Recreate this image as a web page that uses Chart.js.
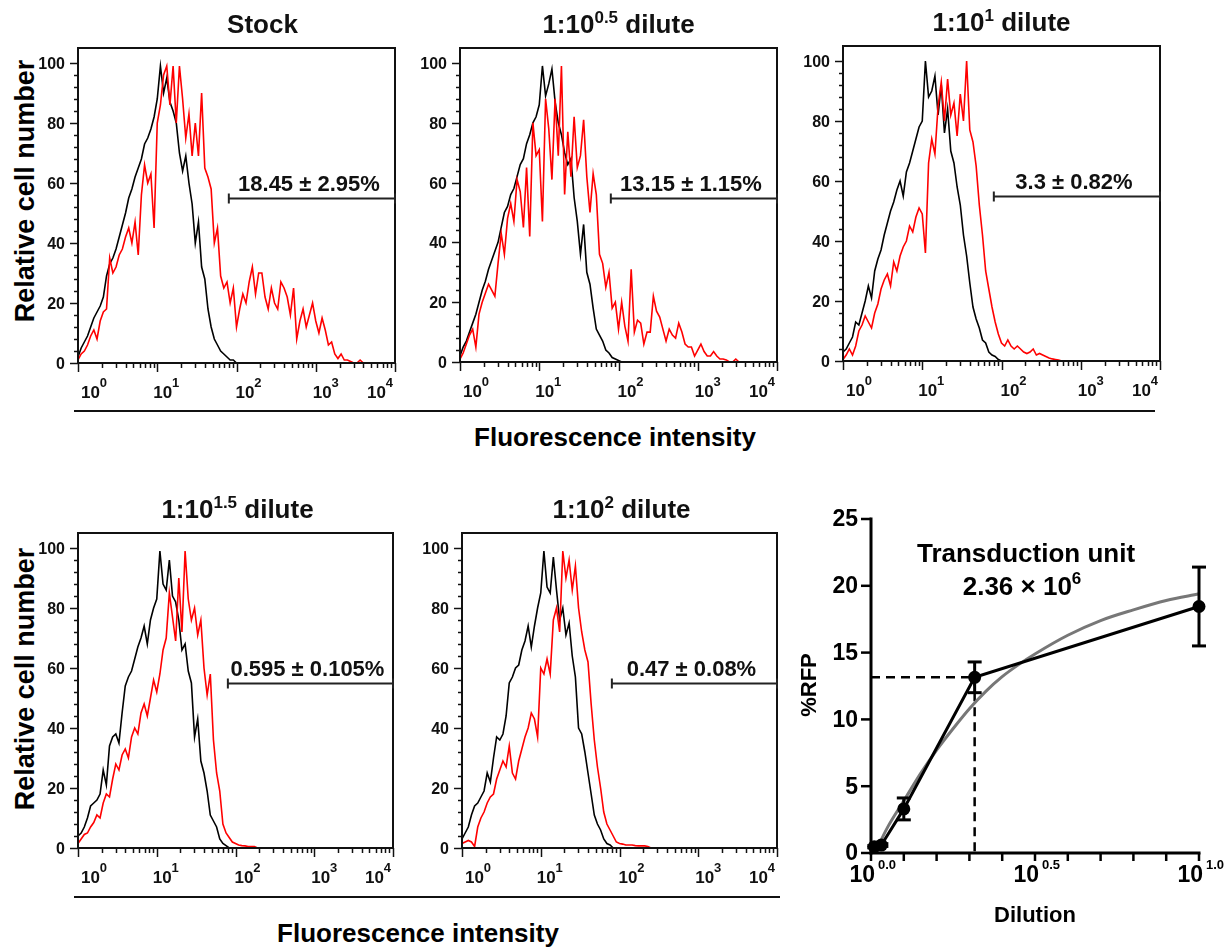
<!DOCTYPE html>
<html lang="en">
<head>
<meta charset="UTF-8">
<title>RFP titration</title>
<script src="https://cdn.jsdelivr.net/npm/chart.js"></script>
<style>
    body {
        margin: 0;
        background: #fff;
        font-family: "Liberation Sans", Arial, Helvetica, sans-serif;
    }
    .figure {
        position: relative;
        width: 1230px;
        height: 947px;
        overflow: hidden;
    }
    .figure canvas { position: absolute; }
    .rule {
        position: absolute;
        height: 2px;
        background: #111;
    }
    .label {
        position: absolute;
        font-weight: bold;
        color: #000;
        white-space: nowrap;
        line-height: 1;
        transform: translate(-50%, -50%);
    }
    .ylabel { transform: translate(-50%, -50%) rotate(-90deg); }
</style>
</head>
<body>
<div class="figure" id="figure">
    <div class="rule" style="left:74px; top:410px; width:1081px"></div>
    <div class="rule" style="left:74px; top:896px; width:706px"></div>
    <div class="label" style="left:615px; top:437px; font-size:26px">Fluorescence intensity</div>
    <div class="label" style="left:418px; top:933px; font-size:26px">Fluorescence intensity</div>
    <div class="label ylabel" style="left:25px; top:191px; font-size:27px">Relative cell number</div>
    <div class="label ylabel" style="left:25px; top:679px; font-size:27px">Relative cell number</div>
</div>

<script>
    const FONT = '"Liberation Sans", Arial, Helvetica, sans-serif';

    // histogram bins: bin i sits at 10^(i * BIN_STEP) on the fluorescence axis
    const BIN_STEP = 0.04;

    // Stock
    const stockCtrl = [2,5,7,9,12, 15,17,19,22,29, 33,35,38,42,46, 50,55,58,62,65, 68,73,75,78,82,
        88,99,90,95,87, 84,80,70,64,69, 60,53,40,47,32, 28,18,12,8,6, 4,3,2,1,1, 0];
    const stockRfp = [1,3,4,6,9, 11,8,14,17,18, 35,30,32,36,38, 42,45,40,47,36, 56,66,60,63,45,
        80,86,96,99,86, 99,80,99,88,75, 83,69,80,69,90, 65,62,58,40,45, 29,25,27,20,25,
        12,18,23,20,27, 32,23,30,30,22, 18,25,20,18,27, 25,22,16,25,8, 14,18,12,16,20,
        14,10,15,11,6, 7,3,1.5,3,1, 1,0.5,0,0,1, 0];

    // 1:10^0.5
    const d05Ctrl = [2,5,7,10,13, 16,20,24,27,31, 34,37,40,45,50, 52,56,58,62,66, 68,73,76,80,82,
        86,99,89,93,98, 87,80,76,70,66, 68,55,47,36,46, 30,26,18,11,9, 7,4,3,1.5,1, 0.5,0];
    const d05Rfp = [1,3,6,9,11, 5,16,20,23,26, 24,22,33,43,36, 48,53,47,61,57, 45,65,42,80,69,
        71,47,88,78,61, 88,69,99,56,77, 62,82,65,69,81, 62,50,63,56,36, 33,25,30,18,20,
        11,20,12,7,31, 10,14,13,6,10, 10,22,17,15,11, 7,11,9,8,13, 10,6,5,5,2,
        4,6,3.5,2,2, 3.5,2,1,1,0.7, 0,0,1,0];

    // 1:10^1
    const d1Ctrl = [3,4,6,8,13, 12,16,20,25,21, 30,34,37,42,46, 50,53,57,60,55, 63,66,70,74,78,
        80,100,88,90,95, 82,92,76,84,70, 66,58,52,42,35, 26,18,14,11,7, 6,3,2,1.5,0.5, 0];
    const d1Rfp = [0.5,2,4,2,5, 10,12,15,13,11, 16,19,24,27,29, 25,33,30,35,38, 40,45,43,48,51,
        49,36,66,74,69, 85,93,80,94,82, 86,75,89,80,100, 77,73,65,52,42, 30,24,18,13,9,
        6,5,7,5,4, 5,4,3,2.5,3, 4,2,2.5,2,1.5, 1,0.7,0.5,0.3,0];

    // 1:10^1.5
    const d15Ctrl = [4,5,7,10,14, 15,16,18,26,21, 34,37,38,35,45, 54,57,59,63,67, 70,74,68,76,80,
        83,99,88,86,96, 84,82,76,66,68, 59,55,37,43,29, 25,19,11,9,7, 3,1.5,0.8,0];
    const d15Rfp = [1.5,3,4.5,5,7, 8.5,11,10,15,18, 17,23,28,26,31, 33,30,37,40,38, 45,48,44,50,56,
        52,58,66,70,85, 77,69,90,72,99, 83,76,80,71,76, 60,51,58,36,25, 19,8,5,3.5,2,
        1.5,1,0.8,0.7,0.5, 0.5,0.5,0];

    // 1:10^2
    const d2Ctrl = [3,5,7,11,14, 15,17,19,25,22, 30,37,36,38,44, 55,57,60,61,66, 69,74,67,74,80,
        85,99,87,85,97, 86,76,80,71,75, 64,57,40,38,32, 25,18,11,8,6, 3,1.5,1,0];
    const d2Rfp = [1.5,2,2.5,2,0.5, 7,10,12,15,17, 18,23,26,29,27, 34,25,23,29,33, 37,40,45,43,37,
        60,58,63,58,76, 80,72,99,90,96, 86,94,80,72,66, 62,48,36,27,20, 12,8,6,4,2,
        1.5,1.3,1,1,1, 0.8,0.7,0.7,0.7,0.5, 0];

    const dilutionExps = ['0.5', '1', '1.5', '2'];
    const rfpMean = [18.45, 13.15, 3.3, 0.595, 0.47];
    const rfpSd = [2.95, 1.15, 0.82, 0.105, 0.08];
    const gateFrom = 80;      // RFP+ gate start (fluorescence units)
    const gateLevel = 55;     // height of the gate marker
    const decadeExps = [0, 1, 2, 3, 4];

    // titration curve
    const dilutionFraction = [1, 0.316, 0.1, 0.0316, 0.01];
    const fitX = [0.012, 0.05, 0.1, 0.15, 0.2, 0.25, 0.3, 0.35, 0.4, 0.45, 0.5, 0.6, 0.7, 0.8, 0.9, 1.0];
    const fitY = [0, 1.9, 3.9, 5.9, 7.7, 9.3, 10.8, 12.1, 13.2, 14.1, 14.9, 16.3, 17.4, 18.2, 18.9, 19.4];
    const rfpTicks = [0, 5, 10, 15, 20, 25];
    const dilutionTicks = [0, 0.5, 1];
    const dilutionTickExps = ['0.0', '0.5', '1.0'];
    const titerMantissa = '2.36 \u00d7 10';
    const titerExp = '6';

    const histograms = [
        { title: ['Stock'], ctrl: stockCtrl, rfp: stockRfp },
        { title: ['1:10', dilutionExps[0], ' dilute'], ctrl: d05Ctrl, rfp: d05Rfp },
        { title: ['1:10', dilutionExps[1], ' dilute'], ctrl: d1Ctrl, rfp: d1Rfp },
        { title: ['1:10', dilutionExps[2], ' dilute'], ctrl: d15Ctrl, rfp: d15Rfp },
        { title: ['1:10', dilutionExps[3], ' dilute'], ctrl: d2Ctrl, rfp: d2Rfp }
    ];

    // plot frames on the page
    const histBoxes = [
        { left: 78, top: 48, right: 395, bottom: 363, titleDx: 26 },
        { left: 460, top: 48, right: 777, bottom: 362, titleDx: 0 },
        { left: 843, top: 46, right: 1160, bottom: 361, titleDx: 0 },
        { left: 78, top: 533, right: 393, bottom: 848, titleDx: 2 },
        { left: 462, top: 533, right: 777, bottom: 848, titleDx: 2 }
    ];
    const DECADE_LABEL_SHIFT = [16, 9, 12, 10, -15];

    function makeCanvas(left, top, width, height) {
        const c = document.createElement('canvas');
        c.width = width;
        c.height = height;
        c.style.left = left + 'px';
        c.style.top = top + 'px';
        c.style.width = width + 'px';
        c.style.height = height + 'px';
        document.getElementById('figure').appendChild(c);
        return c;
    }

    // draws text pieces side by side; each piece {text, size, rise}
    function drawParts(ctx, parts, x, y, align) {
        let total = 0;
        const widths = parts.map(p => {
            ctx.font = `bold ${p.size}px ${FONT}`;
            const w = ctx.measureText(p.text).width;
            total += w;
            return w;
        });
        let cx = align === 'center' ? x - total / 2 : align === 'right' ? x - total : x;
        ctx.textAlign = 'left';
        ctx.textBaseline = 'alphabetic';
        parts.forEach((p, i) => {
            ctx.font = `bold ${p.size}px ${FONT}`;
            ctx.fillText(p.text, cx, y - p.rise);
            cx += widths[i];
        });
    }

    function seg(ctx, x1, y1, x2, y2) {
        ctx.beginPath();
        ctx.moveTo(x1, y1);
        ctx.lineTo(x2, y2);
        ctx.stroke();
    }

    function toPoints(values) {
        return values.map((v, i) => ({ x: Math.pow(10, i * BIN_STEP), y: v }));
    }

    function flowPlugin(idx, box) {
        const h = histograms[idx];
        return {
            id: 'flowAxes' + idx,
            afterDraw(chart) {
                const { ctx, chartArea: a, scales } = chart;
                const xs = scales.x, ys = scales.y;
                ctx.save();
                ctx.strokeStyle = '#111';
                ctx.fillStyle = '#111';

                // y ticks
                ctx.lineWidth = 1.5;
                ctx.font = `bold 16px ${FONT}`;
                ctx.textAlign = 'right';
                ctx.textBaseline = 'middle';
                for (let v = 0; v <= 100; v += 4) {
                    const py = Math.round(ys.getPixelForValue(v)) + 0.5;
                    const major = v % 20 === 0;
                    seg(ctx, a.left - (major ? 8 : 4), py, a.left, py);
                    if (major) ctx.fillText(String(v), a.left - 13, py + 1);
                }

                // x ticks, log decades with minor ticks
                decadeExps.forEach(d => {
                    for (let k = 1; k <= 9; k++) {
                        if (d === 4 && k > 1) break;
                        const px = Math.round(xs.getPixelForValue(k * Math.pow(10, d))) + 0.5;
                        seg(ctx, px, a.bottom, px, a.bottom + (k === 1 ? 9 : 5));
                    }
                });
                decadeExps.forEach((d, i) => {
                    const px = xs.getPixelForValue(Math.pow(10, d)) + DECADE_LABEL_SHIFT[i];
                    drawParts(ctx, [
                        { text: '10', size: 17, rise: 0 },
                        { text: String(d), size: 13, rise: 11 }
                    ], px, a.bottom + 35, 'center');
                });

                // frame
                ctx.lineWidth = 2;
                ctx.strokeRect(a.left, a.top, a.right - a.left, a.bottom - a.top);

                // RFP+ gate
                const gx1 = xs.getPixelForValue(gateFrom);
                const gx2 = xs.getPixelForValue(xs.max);
                const gy = Math.round(ys.getPixelForValue(gateLevel)) + 0.5;
                ctx.lineWidth = 2;
                ctx.strokeStyle = '#222';
                seg(ctx, gx1, gy, gx2, gy);
                seg(ctx, gx1, gy - 5, gx1, gy + 5);
                seg(ctx, gx2, gy - 5, gx2, gy + 5);
                ctx.fillStyle = '#111';
                ctx.font = `bold 22px ${FONT}`;
                ctx.textAlign = 'center';
                ctx.textBaseline = 'alphabetic';
                ctx.fillText(`${rfpMean[idx]} \u00b1 ${rfpSd[idx]}%`, (gx1 + gx2) / 2 - 3, gy - 8);

                // panel title
                const tx = (a.left + a.right) / 2 + box.titleDx;
                const ty = a.top - 15;
                if (h.title.length === 1) {
                    drawParts(ctx, [{ text: h.title[0], size: 26, rise: 0 }], tx, ty, 'center');
                } else {
                    drawParts(ctx, [
                        { text: h.title[0], size: 26, rise: 0 },
                        { text: h.title[1], size: 17, rise: 10 },
                        { text: h.title[2], size: 26, rise: 0 }
                    ], tx, ty, 'center');
                }
                ctx.restore();
            }
        };
    }

    histograms.forEach((h, idx) => {
        const box = histBoxes[idx];
        const pad = { left: 60, top: 50, right: 20, bottom: 50 };
        const w = box.right - box.left + pad.left + pad.right;
        const ht = box.bottom - box.top + pad.top + pad.bottom;
        const canvas = makeCanvas(box.left - pad.left, box.top - pad.top, w, ht);
        new Chart(canvas, {
            type: 'line',
            data: {
                datasets: [
                    { label: 'RFP', data: toPoints(h.rfp), borderColor: '#f00', borderWidth: 1.6 },
                    { label: 'Control', data: toPoints(h.ctrl), borderColor: '#000', borderWidth: 1.6 }
                ]
            },
            options: {
                responsive: false,
                animation: false,
                devicePixelRatio: 1,
                layout: { padding: pad },
                elements: { point: { radius: 0 }, line: { tension: 0 } },
                scales: {
                    x: { type: 'logarithmic', min: 1, max: 10000, display: false },
                    y: { type: 'linear', min: 0, max: 105, display: false }
                },
                plugins: { legend: { display: false }, tooltip: { enabled: false } }
            },
            plugins: [flowPlugin(idx, box)]
        });
    });

    // titration panel
    const titerPlugin = {
        id: 'titerAxes',
        afterDraw(chart) {
            const { ctx, chartArea: a, scales } = chart;
            const xs = scales.x, ys = scales.y;
            ctx.save();
            ctx.strokeStyle = '#000';
            ctx.fillStyle = '#000';

            // error bars
            ctx.lineWidth = 3;
            rfpMean.forEach((m, i) => {
                const px = xs.getPixelForValue(dilutionFraction[i]);
                const yTop = ys.getPixelForValue(m + rfpSd[i]);
                const yBot = ys.getPixelForValue(m - rfpSd[i]);
                seg(ctx, px, yTop, px, yBot);
                seg(ctx, px - 7, yTop, px + 7, yTop);
                seg(ctx, px - 7, yBot, px + 7, yBot);
            });

            // axes
            const y0 = ys.getPixelForValue(0);
            const yMax = ys.getPixelForValue(ys.max);
            ctx.lineWidth = 3;
            seg(ctx, a.left, yMax - 1.5, a.left, y0 + 1.5);
            seg(ctx, a.left - 1.5, y0, a.right + 1.5, y0);

            ctx.lineWidth = 2.5;
            ctx.font = `bold 23px ${FONT}`;
            ctx.textAlign = 'right';
            ctx.textBaseline = 'middle';
            rfpTicks.forEach(v => {
                const py = ys.getPixelForValue(v);
                seg(ctx, a.left - 10, py, a.left, py);
                ctx.fillText(String(v), a.left - 13, py + 1);
            });
            for (let k = 0; k <= 10; k++) {
                const px = xs.getPixelForValue(k / 10);
                seg(ctx, px, y0, px, y0 + 8);
            }
            dilutionTicks.forEach((v, i) => {
                const px = xs.getPixelForValue(v);
                drawParts(ctx, [{ text: '10', size: 23, rise: 0 }], px + 4, y0 + 29, 'right');
                drawParts(ctx, [{ text: dilutionTickExps[i], size: 13, rise: 0 }], px + 7, y0 + 16, 'left');
            });

            // axis titles
            drawParts(ctx, [{ text: 'Dilution', size: 22, rise: 0 }], a.left + 164, y0 + 69, 'center');
            ctx.save();
            ctx.translate(a.left - 55, y0 - 168);
            ctx.rotate(-Math.PI / 2);
            drawParts(ctx, [{ text: '%RFP', size: 22, rise: 0 }], 0, 0, 'center');
            ctx.restore();

            // titer annotation
            drawParts(ctx, [{ text: 'Transduction unit', size: 26, rise: 0 }], a.left + 155, yMax + 43, 'center');
            drawParts(ctx, [
                { text: titerMantissa, size: 26, rise: 0 },
                { text: titerExp, size: 17, rise: 11 }
            ], a.left + 151, yMax + 76, 'center');
            ctx.restore();
        }
    };

    const tBox = { left: 871, top: 519, right: 1199, bottom: 853 };
    const tPad = { left: 91, top: 49, right: 31, bottom: 94 };
    const tCanvas = makeCanvas(tBox.left - tPad.left, tBox.top - tPad.top,
        tBox.right - tBox.left + tPad.left + tPad.right,
        tBox.bottom - tBox.top + tPad.top + tPad.bottom);

    const meanPoints = rfpMean.map((m, i) => ({ x: dilutionFraction[i], y: m }));
    const fitPoints = fitX.map((x, i) => ({ x: x, y: fitY[i] }));
    const guide = meanPoints[1];

    new Chart(tCanvas, {
        type: 'line',
        data: {
            datasets: [
                {
                    label: '%RFP', data: meanPoints, borderColor: '#000', borderWidth: 3,
                    pointRadius: 6.5, pointBackgroundColor: '#000', pointBorderWidth: 0, clip: false
                },
                {
                    label: 'fit', data: fitPoints, borderColor: '#777', borderWidth: 3,
                    pointRadius: 0, cubicInterpolationMode: 'monotone', clip: false
                },
                {
                    label: 'guide-h', data: [{ x: 0, y: guide.y }, { x: guide.x, y: guide.y }],
                    borderColor: '#000', borderWidth: 2.5, borderDash: [9, 6], pointRadius: 0
                },
                {
                    label: 'guide-v', data: [{ x: guide.x, y: guide.y }, { x: guide.x, y: 0 }],
                    borderColor: '#000', borderWidth: 2.5, borderDash: [9, 6], pointRadius: 0
                }
            ]
        },
        options: {
            responsive: false,
            animation: false,
            devicePixelRatio: 1,
            layout: { padding: tPad },
            scales: {
                x: { type: 'linear', min: 0, max: 1, display: false },
                y: { type: 'linear', min: 0, max: 25, display: false }
            },
            plugins: { legend: { display: false }, tooltip: { enabled: false } }
        },
        plugins: [titerPlugin]
    });
</script>
</body>
</html>
